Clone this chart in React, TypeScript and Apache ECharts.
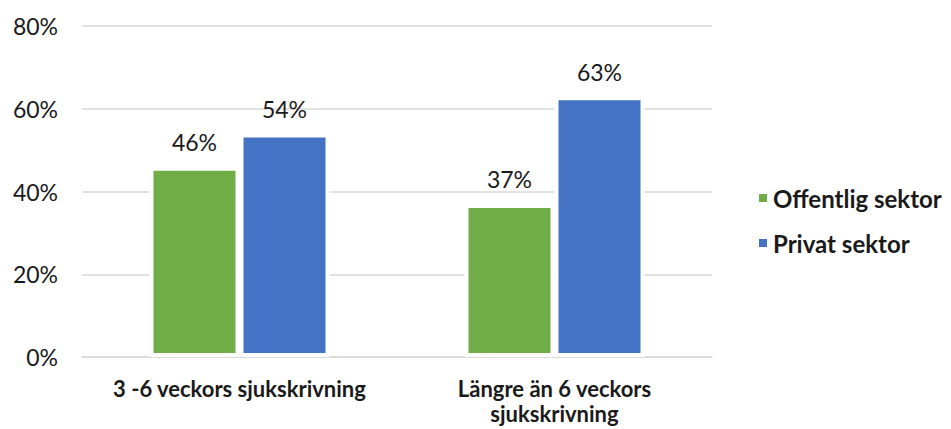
import React, { useEffect, useRef } from "react";
import * as echarts from "echarts";

const categories = ["3 -6 veckors sjukskrivning", "Längre än 6 veckors\nsjukskrivning"];
const offentligSektor = [46, 37];
const privatSektor = [54, 63];
const yTicks = [0, 20, 40, 60, 80];

const FONT = "Lato, 'Open Sans', sans-serif";
const TEXT = "#1a1a1a";

export default function App() {
  const ref = useRef<HTMLDivElement>(null);
  useEffect(() => {
    document.body.style.margin = "0";
    const chart = echarts.init(ref.current!, null, { renderer: "svg" });
    const label = {
      show: true,
      position: "top" as const,
      distance: 13,
      formatter: (p: any) => `${p.value}%`,
      fontFamily: FONT,
      fontSize: 23,
      color: TEXT,
    };
    chart.setOption({
      animation: false,
      textStyle: { fontFamily: FONT },
      grid: { left: 82, right: 239, top: 26, bottom: 72, outerBoundsMode: "none" },
      legend: {
        orient: "vertical",
        left: 752,
        top: 181,
        itemWidth: 10,
        itemHeight: 10,
        itemGap: 21,
        icon: "rect",
        textStyle: { fontFamily: FONT, fontSize: 24, fontWeight: "bold", color: TEXT },
        data: ["Offentlig sektor", "Privat sektor"],
      },
      xAxis: {
        type: "category",
        data: categories,
        axisTick: { show: false },
        axisLine: { lineStyle: { color: "#d9d9d9", width: 1.5 } },
        axisLabel: {
          interval: 0,
          hideOverlap: false,
          margin: 19,
          fontFamily: FONT,
          fontSize: 22,
          fontWeight: "bold",
          color: TEXT,
          lineHeight: 25,
        },
      },
      yAxis: {
        type: "value",
        min: yTicks[0],
        max: yTicks[yTicks.length - 1],
        interval: 20,
        axisLabel: {
          formatter: (v: number) => `${v}%`,
          margin: 24,
          fontFamily: FONT,
          fontSize: 23,
          color: TEXT,
        },
        splitLine: { lineStyle: { color: "#d9d9d9", width: 1.5 } },
        axisLine: { show: false },
        axisTick: { show: false },
      },
      series: [
        {
          name: "Offentlig sektor",
          type: "bar",
          data: offentligSektor,
          barWidth: 90,
          barGap: "0%",
          itemStyle: { color: "#70ad47", borderColor: "#ffffff", borderWidth: 4 },
          label,
        },
        {
          name: "Privat sektor",
          type: "bar",
          data: privatSektor,
          barWidth: 90,
          barGap: "0%",
          itemStyle: { color: "#4472c4", borderColor: "#ffffff", borderWidth: 4 },
          label,
        },
      ],
    });
    return () => chart.dispose();
  }, []);
  return <div ref={ref} style={{ width: 951, height: 429 }} />;
}
